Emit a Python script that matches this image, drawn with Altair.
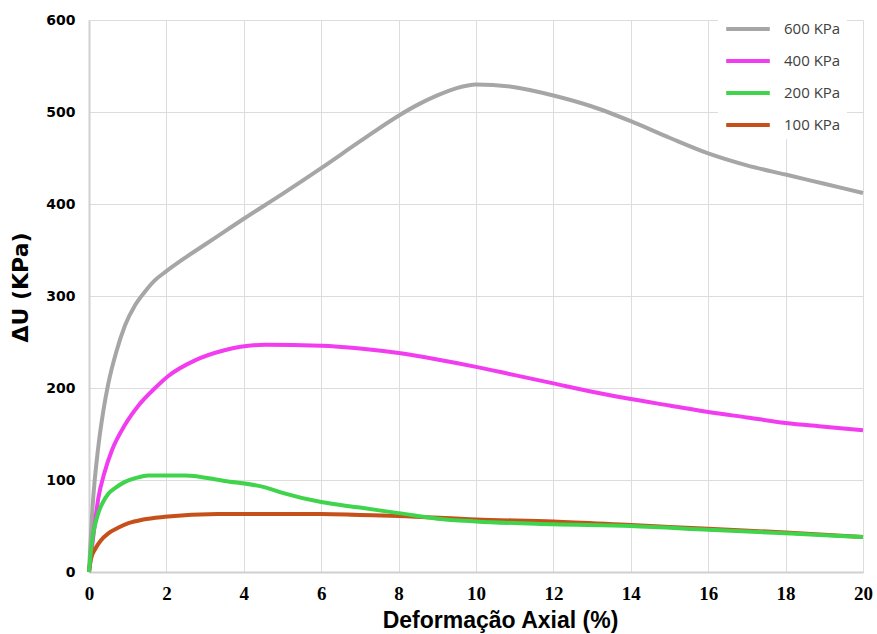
import altair as alt
import pandas as pd

series_names = ["600 KPa", "400 KPa", "200 KPa", "100 KPa"]
series_colors = ["#A6A6A6", "#F23CF0", "#3FD44B", "#C5501A"]

x_600 = [0, 0.1, 0.24, 0.37, 0.5, 0.71, 0.93, 1.19, 1.45, 1.7, 2, 2.5, 3, 3.5, 4, 5, 6, 7, 8, 8.5, 9, 9.5, 10, 11, 12, 13, 14, 15, 16, 17, 18, 19, 20]
y_600 = [0, 75, 136, 175, 205, 240, 268, 290, 305, 317, 327, 342, 356, 370, 384, 411, 439, 468, 496, 508, 518, 526, 530, 527, 518, 506, 490, 472, 455, 442, 432, 422, 412]

x_400 = [0, 0.1, 0.24, 0.4, 0.59, 0.93, 1.28, 1.71, 2.05, 2.74, 3.5, 4.55, 6, 7, 8, 9, 10, 11, 12, 13, 14, 15, 16, 17, 18, 19, 20]
y_400 = [0, 35, 80, 108, 132, 160, 181, 200, 213, 230, 241, 247, 246, 243, 238, 231, 223, 214, 205, 196, 188, 181, 174, 168, 162, 158, 154]

x_200 = [0, 0.07, 0.15, 0.24, 0.35, 0.5, 0.7, 0.93, 1.2, 1.53, 2.48, 3.5, 4.55, 5, 6, 7, 8, 9, 10, 12, 14, 16, 18, 20]
y_200 = [0, 31, 50, 64, 75, 85, 92, 98, 102, 105, 105, 99, 92, 86, 76, 70, 64, 58, 55, 52, 50, 46, 42, 38]

x_100 = [0, 0.05, 0.16, 0.3, 0.5, 0.75, 1.02, 1.4, 1.96, 3.33, 4.55, 6, 7, 8, 10, 12, 14, 16, 18, 20]
y_100 = [0, 14, 25, 34, 42, 48, 53, 57, 60, 63, 63, 63, 62, 61, 57, 55, 51, 47, 43, 38]

x_ticks = [0, 2, 4, 6, 8, 10, 12, 14, 16, 18, 20]
y_ticks = [0, 100, 200, 300, 400, 500, 600]

rows = []
for name, xs, ys in [("600 KPa", x_600, y_600), ("400 KPa", x_400, y_400),
                     ("100 KPa", x_100, y_100), ("200 KPa", x_200, y_200)]:
    for i, (a, b) in enumerate(zip(xs, ys)):
        rows.append({"serie": name, "x": a, "y": b, "i": i})
df = pd.DataFrame(rows)

lines = alt.Chart(df).mark_line(strokeWidth=4, interpolate="monotone").encode(
    x=alt.X("x:Q", scale=alt.Scale(domain=[0, 20], nice=False),
            axis=alt.Axis(values=x_ticks, title="Deformação Axial (%)", tickSize=0, labelFlush=False,
                          labelFont="Liberation Sans Narrow", labelFontSize=19, labelFontWeight="bold",
                          labelColor="#000000", labelPadding=12,
                          titleFont="Liberation Sans", titleFontSize=23, titleFontWeight="bold",
                          titleColor="#000000", titlePadding=6, titleX=411,
                          domainColor="#D0D0D0", domainWidth=2, gridColor="#DCDCDC")),
    y=alt.Y("y:Q", scale=alt.Scale(domain=[0, 600], nice=False),
            axis=alt.Axis(values=y_ticks, title="ΔU (KPa)", tickSize=0, labelFlush=False,
                          labelFont="DejaVu Sans", labelFontSize=14, labelFontWeight="bold",
                          labelColor="#000000", labelPadding=14,
                          titleFont="DejaVu Sans", titleFontSize=22, titleFontWeight="bold",
                          titleColor="#000000", titlePadding=13, titleY=267,
                          domainColor="#D0D0D0", domainWidth=2, gridColor="#DCDCDC")),
    color=alt.Color("serie:N", scale=alt.Scale(domain=series_names, range=series_colors),
                    legend=alt.Legend(title=None, orient="none", legendX=629, legendY=-21,
                                      symbolType="stroke", symbolSize=1900, symbolStrokeWidth=4,
                                      labelFont="Open Sans", labelFontSize=15, labelColor="#404040",
                                      labelOffset=12, rowPadding=0, fillColor="white", padding=6)),
    detail="serie:N",
    order="i:Q",
)

chart = lines.properties(
    width=774, height=552,
    autosize=alt.AutoSizeParams(type="none"),
    padding={"left": 89, "top": 20, "right": 14, "bottom": 62},
).configure_view(stroke=None)

chart.save("out.html", embed_options={"renderer": "svg", "actions": False})
